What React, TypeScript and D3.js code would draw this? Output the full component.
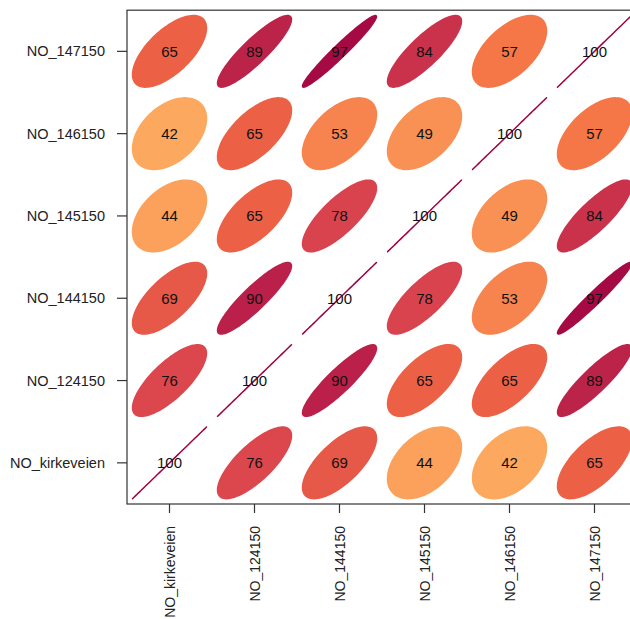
import React from "react";
import * as d3 from "d3";

// Station names, in matrix order (first = bottom row / left column)
const stations = [
  "NO_kirkeveien",
  "NO_124150",
  "NO_144150",
  "NO_145150",
  "NO_146150",
  "NO_147150",
];

// Pairwise correlations in percent, one row per station
const rowKirkeveien = [100, 76, 69, 44, 42, 65];
const row124150 = [76, 100, 90, 65, 65, 89];
const row144150 = [69, 90, 100, 78, 53, 97];
const row145150 = [44, 65, 78, 100, 49, 84];
const row146150 = [42, 65, 53, 49, 100, 57];
const row147150 = [65, 89, 97, 84, 57, 100];

const corr = [rowKirkeveien, row124150, row144150, row145150, row146150, row147150];

const W = 630;
const H = 619;
const n = stations.length;

const x = d3.scaleLinear().domain([0.5, n + 0.5]).range([127, 127 + n * 85]);
const y = d3.scaleLinear().domain([0.5, n + 0.5]).range([504, 504 - n * 82.3]);

const spectral = [...d3.schemeSpectral[11]].reverse();
const color = d3
  .scaleLinear<string>()
  .domain(d3.range(11).map((i) => -1 + i * 0.2))
  .range(spectral);

// Ellipse outline for a correlation r, in data units around (cx, cy)
function ellipsePoints(r: number, cx: number, cy: number, t = 0.435, npts = 100) {
  const d = Math.acos(Math.max(-1, Math.min(1, r)));
  return d3.range(npts).map((k) => {
    const a = (k / (npts - 1)) * 2 * Math.PI;
    return [x(cx + t * Math.cos(a + d / 2)), y(cy + t * Math.cos(a - d / 2))] as [number, number];
  });
}

const line = d3.line().curve(d3.curveLinearClosed);
const font = "Arial, 'Liberation Sans', sans-serif";

export default function App() {
  const cells: React.ReactNode[] = [];
  corr.forEach((row, j) => {
    row.forEach((v, i) => {
      const r = v / 100;
      const fill = color(r);
      const pts = ellipsePoints(r, i + 1, j + 1);
      cells.push(
        <g key={`${i}-${j}`}>
          <path
            d={line(pts) || ""}
            fill={fill}
            stroke={fill}
            strokeWidth={1.5}
            strokeLinejoin="round"
          />
          <text
            x={x(i + 1)}
            y={y(j + 1)}
            textAnchor="middle"
            dominantBaseline="central"
            fontSize={15}
            fontFamily={font}
            fill="#111"
          >
            {v}
          </text>
        </g>
      );
    });
  });

  const [x0, x1] = x.range();
  const [y0, y1] = y.range();

  return (
    <svg
      width={W}
      height={H}
      style={{ position: "fixed", left: 0, top: 0, background: "#fff" }}
    >
      <rect x={0} y={0} width={W} height={H} fill="#fff" />
      {cells}
      <rect
        x={x0}
        y={y1}
        width={x1 - x0}
        height={y0 - y1}
        fill="none"
        stroke="#333"
        strokeWidth={1.2}
      />
      {stations.map((s, k) => (
        <g key={`y-${s}`}>
          <line x1={117} x2={x0} y1={y(k + 1)} y2={y(k + 1)} stroke="#333" strokeWidth={1.2} />
          <text
            x={105}
            y={y(k + 1)}
            textAnchor="end"
            dominantBaseline="central"
            fontSize={14.5}
            fontFamily={font}
            fill="#222"
          >
            {s}
          </text>
        </g>
      ))}
      {stations.map((s, k) => (
        <g key={`x-${s}`}>
          <line x1={x(k + 1)} x2={x(k + 1)} y1={y0} y2={y0 + 9} stroke="#333" strokeWidth={1.2} />
          <text
            transform={`translate(${x(k + 1)},${526}) rotate(-90)`}
            textAnchor="end"
            dominantBaseline="central"
            fontSize={14}
            fontFamily={font}
            fill="#222"
          >
            {s}
          </text>
        </g>
      ))}
    </svg>
  );
}
